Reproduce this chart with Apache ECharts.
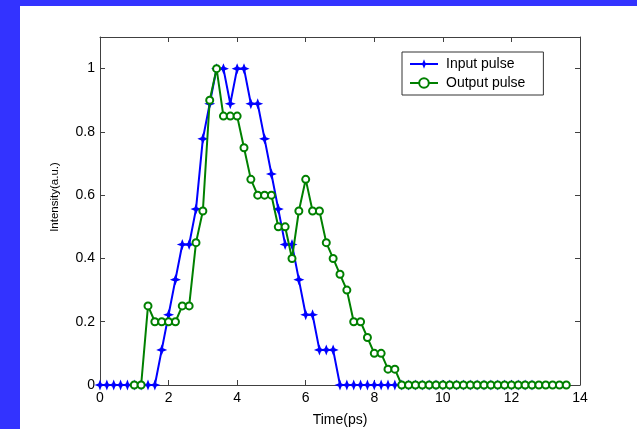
<!DOCTYPE html>
<html>
<head>
<meta charset="utf-8">
<script src="https://cdn.jsdelivr.net/npm/echarts@6/dist/echarts.min.js"></script>
<style>
html,body{margin:0;padding:0;background:#3333FF;width:637px;height:429px;overflow:hidden;}
#chart{position:absolute;left:20px;top:6px;width:617px;height:423px;background:#ffffff;}
</style>
</head>
<body>
<div id="chart"></div>
<script>
// ---- data ----
const inputTime = [0,0.2,0.4,0.6,0.8,1.0,1.2,1.4,1.6,1.8,2.0,2.2,2.4,2.6,2.8,3.0,3.2,3.4,3.6,3.8,4.0,4.2,4.4,4.6,4.8,5.0,5.2,5.4,5.6,5.8,6.0,6.2,6.4,6.6,6.8,7.0,7.2,7.4,7.6,7.8,8.0,8.2,8.4,8.6,8.8,9.0,9.2,9.4,9.6,9.8,10.0,10.2,10.4,10.6,10.8,11.0,11.2,11.4,11.6,11.8,12.0,12.2,12.4,12.6];
const inputValue = [0,0,0,0,0,0,0,0,0,0.111,0.222,0.333,0.444,0.444,0.556,0.778,0.889,1,1,0.889,1,1,0.889,0.889,0.778,0.667,0.556,0.444,0.444,0.333,0.222,0.222,0.111,0.111,0.111,0,0,0,0,0,0,0,0,0,0,0,0,0,0,0,0,0,0,0,0,0,0,0,0,0,0,0,0,0];
const outputTime = [1.0,1.2,1.4,1.6,1.8,2.0,2.2,2.4,2.6,2.8,3.0,3.2,3.4,3.6,3.8,4.0,4.2,4.4,4.6,4.8,5.0,5.2,5.4,5.6,5.8,6.0,6.2,6.4,6.6,6.8,7.0,7.2,7.4,7.6,7.8,8.0,8.2,8.4,8.6,8.8,9.0,9.2,9.4,9.6,9.8,10.0,10.2,10.4,10.6,10.8,11.0,11.2,11.4,11.6,11.8,12.0,12.2,12.4,12.6,12.8,13.0,13.2,13.4,13.6];
const outputValue = [0,0,0.25,0.2,0.2,0.2,0.2,0.25,0.25,0.45,0.55,0.9,1,0.85,0.85,0.85,0.75,0.65,0.6,0.6,0.6,0.5,0.5,0.4,0.55,0.65,0.55,0.55,0.45,0.4,0.35,0.3,0.2,0.2,0.15,0.1,0.1,0.05,0.05,0,0,0,0,0,0,0,0,0,0,0,0,0,0,0,0,0,0,0,0,0,0,0,0,0];
const seriesNames = ['Input pulse','Output pulse'];
const xTicks = [0,2,4,6,8,10,12,14];
const yTicks = [0,0.2,0.4,0.6,0.8,1];
const xLabel = 'Time(ps)';
const yLabel = 'Intensity(a.u.)';

const pair = (t, v) => t.map((x, i) => [x, v[i]]);
const FONT = '"Liberation Sans", Arial, sans-serif';
const axisCol = '#404040';
const starPath = 'path://M5,0 L6.4,3.6 L10,5 L6.4,6.4 L5,10 L3.6,6.4 L0,5 L3.6,3.6 Z';

const chart = echarts.init(document.getElementById('chart'), null, {renderer: 'canvas'});
const baseX = {
  type: 'value', min: xTicks[0], max: xTicks[xTicks.length - 1], interval: 2,
  axisLine: {show: true, onZero: false, lineStyle: {color: axisCol, width: 1}},
  axisTick: {show: true, inside: true, length: 5, lineStyle: {color: axisCol}},
  splitLine: {show: false}
};
const baseY = {
  type: 'value', min: 0, max: 1.1, interval: 0.2,
  axisLine: {show: true, onZero: false, lineStyle: {color: axisCol, width: 1}},
  axisTick: {show: true, inside: true, length: 5, lineStyle: {color: axisCol}},
  splitLine: {show: false}
};
chart.setOption({
  animation: false,
  backgroundColor: '#ffffff',
  grid: {left: 80, top: 31, right: 57, bottom: 44, containLabel: false, outerBoundsMode: 'none'},
  legend: {
    left: 382, top: 46, orient: 'vertical',
    backgroundColor: '#ffffff', borderColor: '#333333', borderWidth: 1, borderRadius: 0,
    padding: [5, 18, 5, 7], itemGap: 5, itemWidth: 28, itemHeight: 12,
    textStyle: {fontFamily: FONT, fontSize: 14, color: '#000', padding: [0, 0, 0, 3]},
    data: seriesNames
  },
  graphic: [{
    type: 'text', x: 35, y: 191, rotation: Math.PI / 2,
    style: {text: yLabel, font: '11.5px ' + FONT, fill: '#000', textAlign: 'center', textVerticalAlign: 'middle'}
  }],
  xAxis: [
    Object.assign({}, baseX, {
      position: 'bottom',
      name: xLabel, nameLocation: 'middle', nameGap: 28,
      nameTextStyle: {fontFamily: FONT, fontSize: 14, color: '#000'},
      axisLabel: {fontFamily: FONT, fontSize: 14, color: '#000', margin: 6,
        formatter: v => xTicks.indexOf(v) >= 0 ? String(v) : ''}
    }),
    Object.assign({}, baseX, {position: 'top', axisLabel: {show: false}})
  ],
  yAxis: [
    Object.assign({}, baseY, {
      position: 'left',
      axisLabel: {fontFamily: FONT, fontSize: 14, color: '#000', margin: 5, showMaxLabel: false,
        formatter: v => yTicks.some(t => Math.abs(t - v) < 1e-9) ? String(+v.toFixed(1)) : ''}
    }),
    Object.assign({}, baseY, {position: 'right', axisLabel: {show: false}})
  ],
  series: [
    {
      name: seriesNames[0], type: 'line', xAxisIndex: 0, yAxisIndex: 0,
      data: pair(inputTime, inputValue),
      symbol: starPath, symbolSize: 11,
      lineStyle: {color: '#0000FF', width: 2},
      itemStyle: {color: '#0000FF', borderWidth: 0},
      z: 2
    },
    {
      name: seriesNames[1], type: 'line', xAxisIndex: 0, yAxisIndex: 0,
      data: pair(outputTime, outputValue),
      symbol: 'emptyCircle', symbolSize: 7,
      lineStyle: {color: '#008000', width: 2},
      itemStyle: {color: '#008000', borderColor: '#008000', borderWidth: 1.3},
      z: 3
    }
  ]
});
</script>
</body>
</html>
